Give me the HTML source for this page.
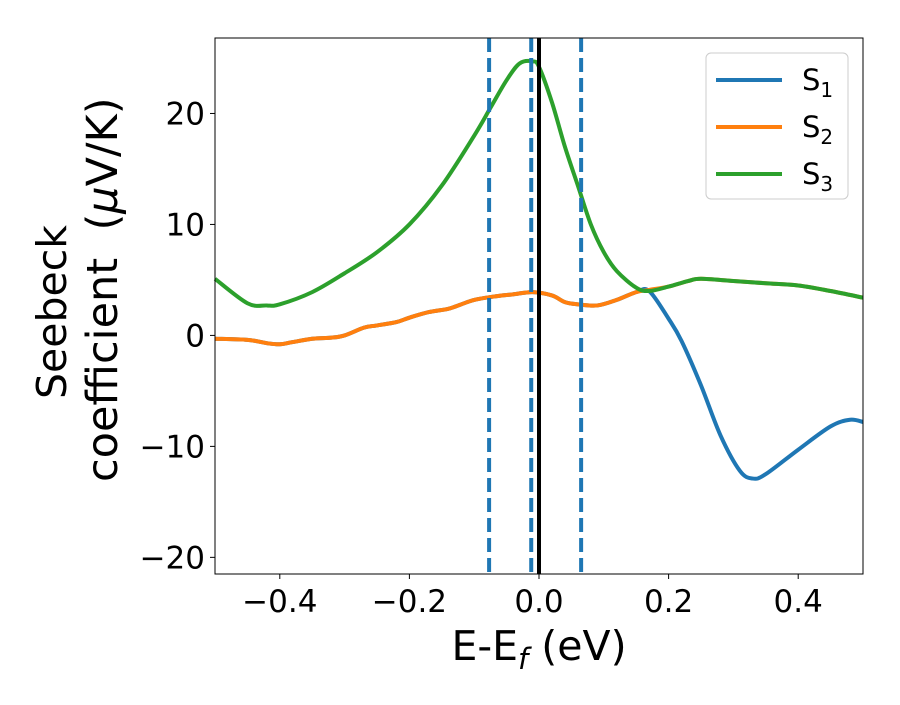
<!DOCTYPE html>
<html><head><meta charset="utf-8"><style>
body{margin:0;background:#fff}
svg text{font-family:"DejaVu Sans","Liberation Sans",sans-serif;fill:#000}
</style></head><body>
<svg id="chart" width="900" height="700">
<g id="plot"></g>
</svg>
<script>
const xs3=[-0.5,-0.45,-0.42,-0.4,-0.35,-0.3,-0.25,-0.2,-0.15,-0.1,-0.075,-0.05,-0.03,-0.01,0,0.02,0.04,0.06,0.08,0.1,0.12,0.15,0.17,0.2,0.23,0.25,0.3,0.35,0.4,0.45,0.5];
const s3=[5.1,2.9,2.7,2.8,3.9,5.6,7.5,10,13.5,18,20.5,23,24.5,24.7,24.2,21,17,13.5,10,7.5,5.8,4.3,4.0,4.4,4.9,5.1,4.9,4.7,4.5,4.0,3.4];
const xs2=[-0.5,-0.45,-0.42,-0.4,-0.38,-0.35,-0.32,-0.3,-0.27,-0.25,-0.22,-0.2,-0.17,-0.14,-0.12,-0.1,-0.07,-0.04,-0.01,0.02,0.04,0.06,0.09,0.12,0.15,0.17,0.2,0.23,0.25,0.3,0.35,0.4,0.45,0.5];
const s2=[-0.3,-0.4,-0.7,-0.8,-0.6,-0.3,-0.2,0,0.7,0.9,1.2,1.6,2.1,2.4,2.8,3.2,3.5,3.7,3.9,3.6,3.0,2.8,2.7,3.2,3.9,4.1,4.4,4.9,5.1,4.9,4.7,4.5,4.0,3.4];
const xs1=[-0.5,-0.45,-0.42,-0.4,-0.38,-0.35,-0.32,-0.3,-0.27,-0.25,-0.22,-0.2,-0.17,-0.14,-0.12,-0.1,-0.07,-0.04,-0.01,0.02,0.04,0.06,0.09,0.12,0.15,0.17,0.2,0.22,0.25,0.28,0.31,0.33,0.35,0.4,0.45,0.48,0.5];
const s1=[-0.3,-0.4,-0.7,-0.8,-0.6,-0.3,-0.2,0,0.7,0.9,1.2,1.6,2.1,2.4,2.8,3.2,3.5,3.7,3.9,3.6,3.0,2.8,2.7,3.2,3.9,4.0,1.5,-0.5,-4.5,-9,-12.2,-12.9,-12.5,-10.3,-8.2,-7.6,-7.8];
const dashX=[-0.077,-0.012,0.065];
const xTicks=[-0.4,-0.2,0.0,0.2,0.4];
const xTickLabels=["−0.4","−0.2","0.0","0.2","0.4"];
const yTicks=[-20,-10,0,10,20];
const yTickLabels=["−20","−10","0","10","20"];
const L=215,R=863,T=38,B=574,xmin=-0.5,xmax=0.5,ymin=-21.5,ymax=26.8;
const X=v=>L+(v-xmin)/(xmax-xmin)*(R-L);
const Y=v=>B-(v-ymin)/(ymax-ymin)*(B-T);
const NS="http://www.w3.org/2000/svg";
const g=document.getElementById('plot');
function mk(t,a,txt){const e=document.createElementNS(NS,t);for(const k in a)e.setAttribute(k,a[k]);if(txt!==undefined)e.textContent=txt;g.appendChild(e);return e;}
function path(xa,ya){const p=xa.map((x,i)=>[X(x),Y(ya[i])]);let d=`M${p[0][0]},${p[0][1]}`;
for(let i=0;i<p.length-1;i++){const p0=p[i-1]||p[i],p1=p[i],p2=p[i+1],p3=p[i+2]||p2;
d+=` C${p1[0]+(p2[0]-p0[0])/6},${p1[1]+(p2[1]-p0[1])/6} ${p2[0]-(p3[0]-p1[0])/6},${p2[1]-(p3[1]-p1[1])/6} ${p2[0]},${p2[1]}`;}return d;}
let e;
e=mk('path',{d:path(xs1,s1),stroke:'#1f77b4','stroke-width':4,fill:'none'});

e=mk('path',{d:path(xs2,s2),stroke:'#ff7f0e','stroke-width':4,fill:'none'});

e=mk('path',{d:path(xs3,s3),stroke:'#2ca02c','stroke-width':4,fill:'none'});

dashX.forEach(v=>{e=mk('line',{x1:X(v),x2:X(v),y1:T,y2:B,stroke:'#1f77b4','stroke-width':4,'stroke-dasharray':'14,6'});
});
e=mk('line',{x1:X(0),x2:X(0),y1:T,y2:B,stroke:'#000','stroke-width':4});

e=mk('rect',{x:L,y:T,width:R-L,height:B-T,fill:'none',stroke:'#000','stroke-width':1});

xTicks.forEach((v,i)=>{mk('line',{x1:X(v),x2:X(v),y1:B,y2:B+5,stroke:'#000'});
e=mk('text',{x:X(v),y:B+38,'text-anchor':'middle','font-size':31},xTickLabels[i]);
});
yTicks.forEach((v,i)=>{mk('line',{x1:L-5,x2:L,y1:Y(v),y2:Y(v),stroke:'#000'});
e=mk('text',{x:L-10,y:Y(v)+11,'text-anchor':'end','font-size':31},yTickLabels[i]);
});
e=mk('text',{x:539,y:660,'text-anchor':'middle','font-size':41});
e.innerHTML='E-E<tspan font-size="29" font-style="italic" dy="9">f</tspan><tspan dy="-9"> (eV)</tspan>';

e=mk('text',{transform:'translate(66,312) rotate(-90)','text-anchor':'middle','font-size':41},'Seebeck');

e=mk('text',{transform:'translate(117,482) rotate(-90)','text-anchor':'start','font-size':43});
e.innerHTML='coefficient\u00a0\u00a0(<tspan font-style="italic">μ</tspan>V/K)';

e=mk('rect',{x:706,y:53,width:142,height:146,rx:5,fill:'#fff',stroke:'#ccc'});

[['#1f77b4','1'],['#ff7f0e','2'],['#2ca02c','3']].forEach((c,i)=>{const y=80+i*47;
mk('line',{x1:716,x2:782,y1:y,y2:y,stroke:c[0],'stroke-width':4});
e=mk('text',{x:802,y:y+10,'font-size':29});e.innerHTML='S<tspan font-size="20" dy="7">'+c[1]+'</tspan>';
});
</script>
</body></html>
